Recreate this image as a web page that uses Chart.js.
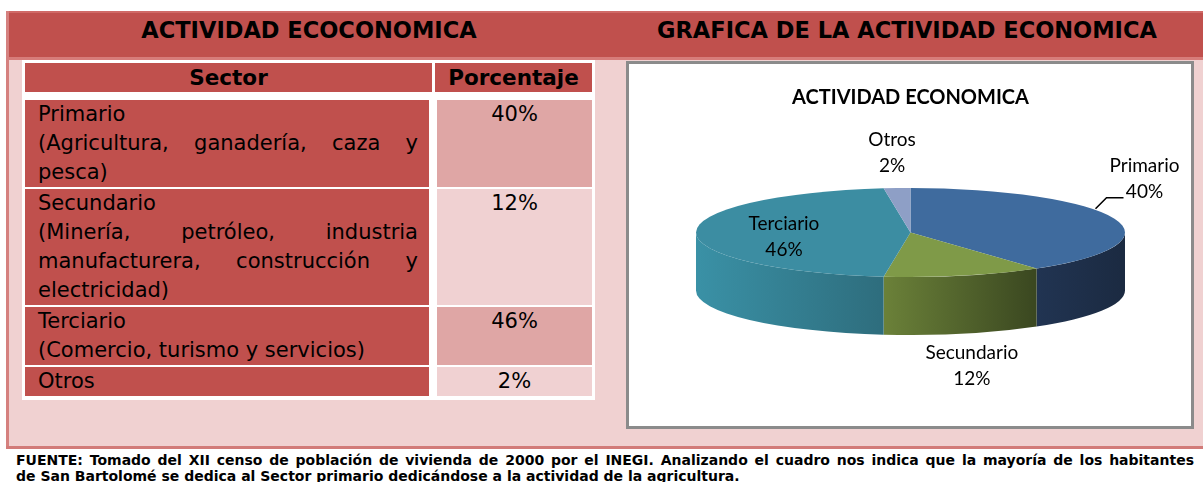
<!DOCTYPE html>
<html lang="es">
<head>
<meta charset="utf-8">
<title>Actividad económica</title>
<script src="https://cdn.jsdelivr.net/npm/chart.js@4.4.1/dist/chart.umd.min.js"></script>
<style>
  body { margin: 0; width: 1203px; height: 482px; overflow: hidden; background: #fff; position: relative; font-family: "DejaVu Sans", Verdana, sans-serif; color: #000; }
  .abs { position: absolute; }
  #frame { left: 6px; top: 11px; width: 1300px; height: 435px; background: #F0D1D1; border-left: 3px solid #D5817F; }
  #hdr { left: 9px; top: 11px; width: 1300px; height: 46px; background: #C0504D; border-top: 2px solid #D06A67; box-sizing: border-box; }
  #hdr-line { left: 9px; top: 57px; width: 1300px; height: 3px; background: #D77C7A; }
  .htitle { top: 17px; height: 26px; line-height: 26px; font-weight: bold; font-size: 22.5px; text-align: center; }
  #tbl { left: 22px; top: 60px; width: 573px; height: 340px; background: #fff; }
  .th { top: 63px; height: 29px; line-height: 29px; background: #C0504D; font-weight: bold; font-size: 21.5px; text-align: center; }
  #rows { left: 25px; top: 100px; width: 567px; display: grid; grid-template-columns: 404px 155px; column-gap: 8px; row-gap: 2px; }
  .sec { background: #C0504D; font-size: 21px; line-height: 29px; padding: 0 11px 0 13px; text-align: justify; }
  .pct { font-size: 21px; line-height: 29px; text-align: center; }
  .pct.dark { background: #DFA6A5; }
  .pct.light { background: #F0D1D2; }
  #bottom-line { left: 6px; top: 446px; width: 1300px; height: 3px; background: #D27B79; }
  #box { left: 626px; top: 61px; width: 562px; height: 362px; border: 3px solid #8B8B8B; background: #fff; }
  #footer { left: 16px; top: 452px; width: 1178px; font-weight: bold; font-size: 14px; line-height: 16px; }
  #footer .l1 { text-align: justify; text-align-last: justify; }
</style>
</head>
<body>
<div id="frame" class="abs"></div>
<div id="hdr" class="abs"></div>
<div id="hdr-line" class="abs"></div>
<div class="abs htitle" style="left:9px;width:600px">ACTIVIDAD ECOCONOMICA</div>
<div class="abs htitle" style="left:611px;width:592px">GRAFICA DE LA ACTIVIDAD ECONOMICA</div>

<div id="tbl" class="abs"></div>
<div class="abs th" style="left:25px;width:407px">Sector</div>
<div class="abs th" style="left:435px;width:157px">Porcentaje</div>
<div id="rows" class="abs"></div>

<div id="box" class="abs">
  <div style="position:relative;width:562px;height:362px"><canvas id="grafica"></canvas></div>
</div>

<div id="bottom-line" class="abs"></div>
<div id="footer" class="abs">
  <div class="l1">FUENTE: Tomado del XII censo de población de vivienda de 2000 por el INEGI. Analizando el cuadro nos indica que la mayoría de los habitantes</div>
  <div>de San Bartolomé se dedica al Sector primario dedicándose a la actividad de la agricultura.</div>
</div>

<script>
// --- Datos ---
const sectores = ['Primario', 'Secundario', 'Terciario', 'Otros'];
const actividades = [
    '(Agricultura, ganadería, caza y pesca)',
    '(Minería, petróleo, industria manufacturera, construcción y electricidad)',
    '(Comercio, turismo y servicios)',
    ''
];
const porcentajes = [40, 12, 46, 2];

// --- Estilo del pastel ---
const colorCara = ['#3F6B9E', '#7F9A48', '#3C8DA2', '#8E9FC6'];
const colorLadoClaro = ['#213452', '#6B8139', '#3A91A6', '#7F90B8'];
const colorLadoOscuro = ['#1B2A41', '#3A4720', '#2E6D7D', '#5F6E92'];
const etiquetaDx = [30, 8, 88, -5];
const etiquetaDy = [-40, 90, 4, -35];
const PIE_RX = 214.5, PIE_RY = 44.5, GROSOR = 58;

// --- Tabla ---
const rows = document.getElementById('rows');
sectores.forEach((s, i) => {
    rows.innerHTML += `
        <div class="sec">${s}${actividades[i] ? '<br>' + actividades[i] : ''}</div>
        <div class="pct ${i % 2 === 0 ? 'dark' : 'light'}">${porcentajes[i]}%</div>`;
});

// --- Pastel 3D: costado + cara superior aplastada ---
const pastel3d = {
    id: 'pastel3d',
    beforeDatasetsDraw(chart) {
        const ctx = chart.ctx;
        const arcs = chart.getDatasetMeta(0).data;
        const cx = arcs[0].x, cy = arcs[0].y, R = arcs[0].outerRadius;

        // solo la mitad delantera del costado se ve (0..PI)
        arcs.forEach((a, i) => {
            const lo = Math.max(a.startAngle, 0), hi = Math.min(a.endAngle, Math.PI);
            if (lo >= hi) return;
            const xl = cx + PIE_RX * Math.cos(hi), xr = cx + PIE_RX * Math.cos(lo);
            const g = ctx.createLinearGradient(xl, 0, xr, 0);
            g.addColorStop(0, colorLadoClaro[i]);
            g.addColorStop(1, colorLadoOscuro[i]);
            ctx.beginPath();
            ctx.ellipse(cx, cy, PIE_RX, PIE_RY, 0, lo, hi);
            ctx.lineTo(xl, cy + GROSOR + PIE_RY * Math.sin(hi));
            ctx.ellipse(cx, cy + GROSOR, PIE_RX, PIE_RY, 0, hi, lo, true);
            ctx.closePath();
            ctx.fillStyle = g;
            ctx.fill();
        });

        ctx.save();
        ctx.translate(cx, cy);
        ctx.scale(PIE_RX / R, PIE_RY / R);
        ctx.translate(-cx, -cy);
        arcs.forEach(a => a.draw(ctx));
        ctx.restore();
        return false;
    },
    afterDraw(chart) {
        const ctx = chart.ctx;
        const arcs = chart.getDatasetMeta(0).data;
        const cx = arcs[0].x, cy = arcs[0].y;
        ctx.save();
        ctx.font = '19px Lato';
        ctx.fillStyle = '#000';
        ctx.strokeStyle = '#000';
        ctx.lineWidth = 1.5;
        ctx.textAlign = 'center';
        ctx.textBaseline = 'middle';
        arcs.forEach((a, i) => {
            const m = (a.startAngle + a.endAngle) / 2;
            const x = cx + PIE_RX * Math.cos(m) + etiquetaDx[i];
            const y = cy + PIE_RY * Math.sin(m) + etiquetaDy[i];
            ctx.fillText(sectores[i], x, y - 13);
            ctx.fillText(porcentajes[i] + '%', x, y + 13);
            if (i === 0) {
                ctx.beginPath();
                ctx.moveTo(x - 49, y + 30);
                ctx.lineTo(x - 38, y + 19);
                ctx.lineTo(x - 21, y + 19);
                ctx.stroke();
            }
        });
        ctx.restore();
    }
};

new Chart(document.getElementById('grafica'), {
    type: 'pie',
    data: {
        labels: sectores,
        datasets: [{ data: porcentajes, backgroundColor: colorCara, borderWidth: 0 }]
    },
    options: {
        responsive: true, maintainAspectRatio: false,
        animation: false,
        devicePixelRatio: 1,
        layout: { padding: { left: 100, right: 99, top: 0, bottom: 77 } },
        plugins: {
            legend: { display: false },
            tooltip: { enabled: false },
            title: {
                display: true, text: 'ACTIVIDAD ECONOMICA', color: '#000',
                font: { family: 'Lato', size: 20, weight: 'bold' },
                padding: { top: 22, bottom: 6 }
            }
        }
    },
    plugins: [pastel3d]
});
</script>
</body>
</html>
